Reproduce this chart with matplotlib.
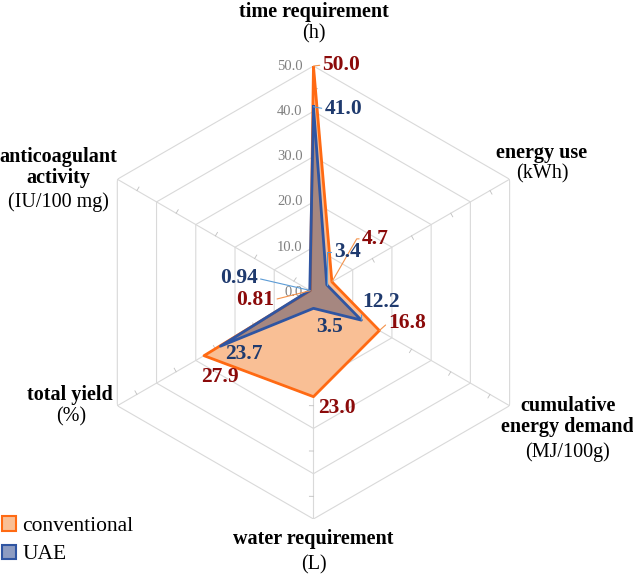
import numpy as np
import matplotlib
matplotlib.use('Agg')
import matplotlib.pyplot as plt
from matplotlib.patches import Patch

# axis names / units, clockwise from the top
axis_names = ['time requirement', 'energy use', 'cumulative\nenergy demand',
              'water requirement', 'total yield', 'anticoagulant\nactivity']
axis_units = ['(h)', '(kWh)', '(MJ/100g)', '(L)', '(%)', '(IU/100 mg)']

conventional = [50.0, 4.7, 16.8, 23.0, 27.9, 0.81]
uae = [41.0, 3.4, 12.2, 3.5, 23.7, 0.94]
conv_labels = ['50.0', '4.7', '16.8', '23.0', '27.9', '0.81']
uae_labels = ['41.0', '3.4', '12.2', '3.5', '23.7', '0.94']

grid_levels = [0, 10, 20, 30, 40, 50]
series_names = ['conventional', 'UAE']

plt.rcParams['font.family'] = ['Liberation Serif', 'DejaVu Serif']

fig = plt.figure(figsize=(6.33, 5.78), dpi=100)
ax = fig.add_axes([0.1374, 0.1021, 0.7156, 0.7837], projection='polar')
ax.set_theta_zero_location('N')
ax.set_theta_direction(-1)
ax.set_ylim(0, 50)
ax.grid(False)
ax.set_xticks([])
ax.set_yticks([])
ax.spines['polar'].set_visible(False)
ax.patch.set_alpha(0)

n = len(axis_names)
angles = np.arange(n) * 2 * np.pi / n
closed = np.append(angles, angles[0])

gridc = '#d9d9d9'
for lev in grid_levels[1:]:
    ax.plot(closed, [lev] * (n + 1), color=gridc, lw=0.8, zorder=1)
for a in angles:
    ax.plot([a, a], [0, 50], color=gridc, lw=0.8, zorder=1)
    # small minor ticks between the rings
    for r in range(5, 50, 10):
        ax.plot([a, a + 0.9 / r], [r, r], color='#bfbfbf', lw=0.6, zorder=1)

# scale labels along the top axis
for lev in grid_levels:
    ax.annotate(f'{lev:.1f}', xy=(0, lev), xytext=(-11, 0), textcoords='offset pixels',
                ha='right', va='center', fontsize=10.5, color='#808080', zorder=2)

conv_fill = '#f9bf95'
conv_edge = '#ff6a13'
uae_edge = '#2f55a2'
ax.fill(closed, conventional + conventional[:1], color=conv_fill, zorder=3)
ax.plot(closed, conventional + conventional[:1], color=conv_edge, lw=2, zorder=4)
ax.fill(closed, uae + uae[:1], color='#5a556e', alpha=0.52, lw=0, zorder=5)
ax.plot(closed, uae + uae[:1], color=uae_edge, lw=2, zorder=6)

red = '#8b0a0a'
navy = '#1f3a6e'
lead_o = '#f4924a'
lead_b = '#5b9bd5'

# (offset x, offset y, ha, leader, connection style)
conv_pos = [(9, 1, 'left', True, None),
            (30, 43, 'left', True, 'angle,angleA=0,angleB=60,rad=0'),
            (9, 8, 'left', True, None),
            (5, -11, 'left', False, None),
            (-3, -21, 'left', False, None),
            (-36, -9, 'right', True, None)]
uae_pos = [(11, -2, 'left', True, None),
           (7, 33, 'left', True, 'angle,angleA=0,angleB=90,rad=0'),
           (1, 18, 'left', True, None),
           (3, -19, 'left', False, None),
           (5, -8, 'left', False, None),
           (-52, 12, 'right', True, None)]

for vals, labs, pos, col, lc in [(conventional, conv_labels, conv_pos, red, lead_o),
                                 (uae, uae_labels, uae_pos, navy, lead_b)]:
    for a, v, lab, (dx, dy, ha, lead, cs) in zip(angles, vals, labs, pos):
        kw = {}
        if lead:
            ap = dict(arrowstyle='-', color=lc, lw=0.8, shrinkA=0, shrinkB=0,
                      relpos=(0, 0.5) if ha == 'left' else (1, 0.5))
            if cs:
                ap['connectionstyle'] = cs
            kw['arrowprops'] = ap
        ax.annotate(lab, xy=(a, v), xytext=(dx, dy), textcoords='offset pixels',
                    ha=ha, va='center', fontsize=15.5, fontweight='bold', color=col,
                    zorder=8, annotation_clip=False, **kw)

# axis titles, placed relative to the outer vertex
title_pos = [((0, 54), (0, 32)),
             ((32, 26), (33, 5)),
             ((58, -11), (58, -46)),
             ((0, -20), (0, -46)),
             ((-47, 11), (-46, -11)),
             ((-59, 12), (-59, -23))]
for a, name, unit, (p1, p2) in zip(angles, axis_names, axis_units, title_pos):
    ax.annotate(name, xy=(a, 50), xytext=p1, textcoords='offset pixels',
                ha='center', va='center', fontsize=14.5, fontweight='bold',
                linespacing=1.05, annotation_clip=False)
    ax.annotate(unit, xy=(a, 50), xytext=p2, textcoords='offset pixels',
                ha='center', va='center', fontsize=14.5, annotation_clip=False)

handles = [Patch(facecolor=conv_fill, edgecolor=conv_edge, lw=1.5),
           Patch(facecolor='#8d9cc2', edgecolor=uae_edge, lw=1.5)]
fig.legend(handles, series_names, loc='lower left', bbox_to_anchor=(0.0, 0.02),
           frameon=False, fontsize=15.5, handlelength=0.65, handleheight=0.65,
           handletextpad=0.3, labelspacing=0.4, borderaxespad=0, borderpad=0.1)

fig.savefig('out.png', dpi=100)
